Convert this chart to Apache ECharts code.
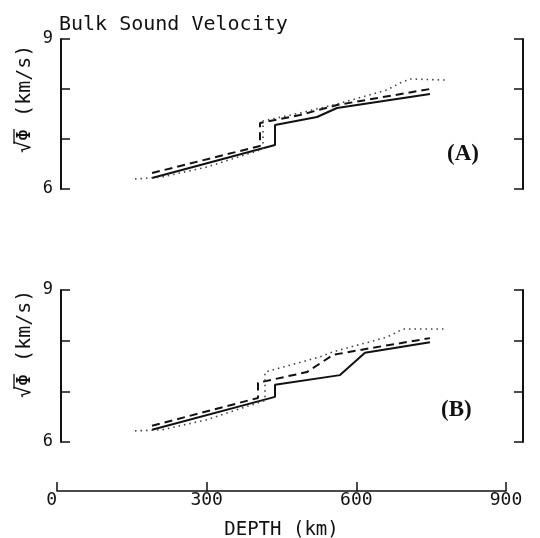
<!DOCTYPE html>
<html>
<head>
<meta charset="utf-8">
<script src="https://cdn.jsdelivr.net/npm/echarts@6/dist/echarts.min.js"></script>
<style>
  html, body { margin: 0; padding: 0; background: #fff; }
  #chart { width: 540px; height: 538px; }
</style>
</head>
<body>
<div id="chart"></div>
<script>
// panel (A)
var aSolidDepth = [190, 436, 436, 520, 560, 746];
var aSolidVel   = [6.22, 6.88, 7.28, 7.44, 7.62, 7.90];
var aDashDepth  = [190, 406, 406, 486, 560, 746];
var aDashVel    = [6.32, 6.86, 7.32, 7.48, 7.68, 8.00];
var aDotDepth   = [156, 210, 300, 412, 412, 486, 560, 660, 686, 706, 776];
var aDotVel     = [6.20, 6.24, 6.44, 6.80, 7.36, 7.52, 7.70, 7.98, 8.12, 8.20, 8.18];

// panel (B)
var bSolidDepth = [190, 436, 436, 566, 616, 746];
var bSolidVel   = [6.24, 6.89, 7.13, 7.32, 7.76, 7.97];
var bDashDepth  = [190, 402, 402, 500, 552, 620, 746];
var bDashVel    = [6.32, 6.87, 7.17, 7.38, 7.72, 7.84, 8.05];
var bDotDepth   = [156, 210, 300, 416, 416, 526, 552, 660, 692, 776];
var bDotVel     = [6.22, 6.24, 6.44, 6.82, 7.38, 7.68, 7.78, 8.07, 8.23, 8.23];

var depthTicks = [0, 300, 600, 900];
var velTicks = [6, 9];

function pairs(xs, ys) {
  return xs.map(function (x, i) { return [x, ys[i]]; });
}

var monoFont = 'DejaVu Sans Mono';
var black = '#111';

var chart = echarts.init(document.getElementById('chart'));

function panelY(grid, showLabels) {
  return {
    type: 'value', gridIndex: grid, min: 6, max: 9, interval: 1,
    position: showLabels ? 'left' : 'right',
    axisLine: { show: true, lineStyle: { color: black, width: 2 } },
    axisTick: { show: true, inside: true, length: 9, lineStyle: { color: black, width: 1.5 } },
    axisLabel: {
      show: showLabels, margin: 8, color: black, fontFamily: monoFont, fontSize: 17,
      formatter: function (v) { return velTicks.indexOf(v) >= 0 ? String(v) : ''; }
    },
    splitLine: { show: false }
  };
}

function line(grid, xs, ys, type, width, color) {
  return {
    type: 'line', xAxisIndex: grid, yAxisIndex: grid === 0 ? 0 : 2,
    data: pairs(xs, ys), showSymbol: false, symbol: 'none',
    lineStyle: { color: color, width: width, type: type },
    z: 3
  };
}

// rotated "sqrt(Phi) (km/s)" label, radical bar drawn over the Phi
function yName(x, y) {
  return {
    type: 'group', x: x, y: y, rotation: Math.PI / 2,
    children: [
      {
        type: 'text', x: 0, y: 0,
        style: { text: '√Φ (km/s)', font: '20px "DejaVu Sans Mono"', fill: black,
                 textVerticalAlign: 'middle', verticalAlign: 'middle' }
      },
      {
        type: 'line', shape: { x1: 9, y1: -11, x2: 24, y2: -11 },
        style: { stroke: black, lineWidth: 1.3 }
      }
    ]
  };
}

var option = {
  animation: false,
  title: {
    text: 'Bulk Sound Velocity', left: 54, top: 10,
    textStyle: { fontFamily: monoFont, fontSize: 20, fontWeight: 'normal', color: black }
  },
  grid: [
    { left: 61, top: 39, width: 462, height: 150, outerBoundsMode: 'none', containLabel: false },
    { left: 61, top: 290, width: 462, height: 152, outerBoundsMode: 'none', containLabel: false },
    { left: 57, top: 470, width: 449, height: 21, outerBoundsMode: 'none', containLabel: false }
  ],
  xAxis: [
    { type: 'value', gridIndex: 0, min: 8, max: 932, show: false },
    { type: 'value', gridIndex: 1, min: 8, max: 932, show: false },
    {
      type: 'value', gridIndex: 2, min: 0, max: 900, interval: 300,
      name: 'DEPTH (km)', nameLocation: 'middle', nameGap: 30,
      nameTextStyle: { fontFamily: monoFont, fontSize: 19, color: black },
      axisLine: { show: true, onZero: false, lineStyle: { color: black, width: 1.5 } },
      axisTick: { show: true, inside: true, length: 9, lineStyle: { color: black, width: 1.5 } },
      axisLabel: {
        margin: 0, color: black, fontFamily: monoFont, fontSize: 18,
        alignMinLabel: 'right',
        formatter: function (v) { return depthTicks.indexOf(v) >= 0 ? String(v) : ''; }
      },
      splitLine: { show: false }
    }
  ],
  yAxis: [
    panelY(0, true),
    panelY(0, false),
    panelY(1, true),
    panelY(1, false),
    { type: 'value', gridIndex: 2, show: false, min: 0, max: 1 }
  ],
  graphic: [
    yName(25, 153),
    yName(25, 398),
    {
      type: 'text', left: 447, top: 143,
      style: { text: '(A)', font: 'bold 23px "Liberation Serif"', fill: black }
    },
    {
      type: 'text', left: 441, top: 399,
      style: { text: '(B)', font: 'bold 23px "Liberation Serif"', fill: black }
    }
  ],
  series: [
    line(0, aSolidDepth, aSolidVel, 'solid', 2, black),
    line(0, aDashDepth, aDashVel, [8, 5], 2, black),
    line(0, aDotDepth, aDotVel, [1.5, 4], 1.6, '#444'),
    line(1, bSolidDepth, bSolidVel, 'solid', 2, black),
    line(1, bDashDepth, bDashVel, [8, 5], 2, black),
    line(1, bDotDepth, bDotVel, [1.5, 4], 1.6, '#444')
  ]
};

chart.setOption(option);
</script>
</body>
</html>
